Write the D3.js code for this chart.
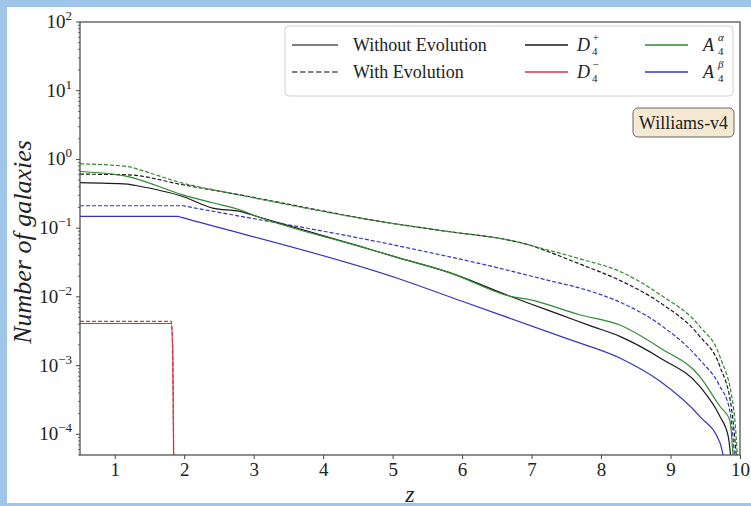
<!DOCTYPE html>
<html>
<head>
<meta charset="utf-8">
<script src="https://cdn.jsdelivr.net/npm/d3@7"></script>
<style>
  html, body { margin: 0; padding: 0; background: #9fc5e8; }
  svg { display: block; }
  text { font-family: "Liberation Serif", "DejaVu Serif", serif; fill: #222; }
</style>
</head>
<body>
<svg id="chart" width="751" height="506"></svg>
<script>
// Number of galaxies vs redshift ([z, N])
const dPlusNoEvo = [[0.5, 0.461], [1.19, 0.438], [1.25, 0.427], [1.98, 0.289], [2.41, 0.196], [2.80, 0.175],
  [3.05, 0.148], [4.53, 0.0542], [5.10, 0.0367], [5.82, 0.0225], [6.69, 0.0102], [6.97, 0.0080],
  [7.41, 0.00551], [7.84, 0.00381], [8.27, 0.00266], [8.85, 0.00129], [9.42, 0.000500], [9.71, 0.000183],
  [9.83, 0.0000938], [9.92, 0.00001]];
const dPlusEvo = [[0.5, 0.611], [1.19, 0.597], [1.98, 0.428], [2.66, 0.324], [4.96, 0.119], [5.82, 0.0887],
  [6.69, 0.0665], [6.97, 0.0569], [7.26, 0.0447], [7.69, 0.0302], [8.27, 0.0174], [8.85, 0.00822],
  [9.42, 0.00267], [9.71, 0.000977], [9.88, 0.000229], [10.0, 0.00001]];
const dMinusNoEvo = [[0.5, 0.0041], [1.814, 0.0041], [1.834, 0.00171], [1.853, 0.00001]];
const dMinusEvo = [[0.5, 0.0044], [1.814, 0.0044], [1.834, 0.0018], [1.853, 0.00001]];
const aAlphaNoEvo = [[0.5, 0.667], [1.19, 0.563], [1.98, 0.305], [2.41, 0.234], [2.80, 0.185], [3.05, 0.148],
  [4.53, 0.0542], [5.10, 0.0367], [5.82, 0.0225], [6.69, 0.0102], [6.97, 0.0091], [7.69, 0.00550],
  [8.27, 0.00389], [8.85, 0.00181], [9.42, 0.000698], [9.71, 0.000256], [9.85, 0.000164], [9.94, 0.00001]];
const aAlphaEvo = [[0.5, 0.863], [1.19, 0.788], [1.36, 0.706], [1.98, 0.452], [2.66, 0.324], [4.96, 0.119],
  [5.82, 0.0887], [6.69, 0.0665], [7.11, 0.0519], [7.69, 0.0359], [8.27, 0.0235], [8.85, 0.01076],
  [9.42, 0.00372], [9.71, 0.00136], [9.91, 0.000229], [10.0, 0.00001]];
const aBetaNoEvo = [[0.5, 0.148], [1.91, 0.148], [1.96, 0.1433], [5.10, 0.0182], [6.0, 0.00863], [7.55, 0.00239],
  [8.27, 0.00129], [8.85, 0.000591], [9.42, 0.000183], [9.71, 0.0000761], [9.87, 0.00001]];
const aBetaEvo = [[0.5, 0.212], [1.98, 0.212], [2.04, 0.2065], [4.96, 0.0585], [6.4, 0.0282], [7.2, 0.0178],
  [7.84, 0.01216], [8.27, 0.00841], [8.85, 0.00394], [9.42, 0.00122], [9.71, 0.000500], [9.85, 0.000229],
  [9.97, 0.00001]];

const xTicks = [1, 2, 3, 4, 5, 6, 7, 8, 9, 10];
const yExponents = [-4, -3, -2, -1, 0, 1, 2];

const series = [
  { data: dPlusEvo, color: '#1a1a1a', dashed: true },
  { data: aAlphaEvo, color: '#2e8b2e', dashed: true },
  { data: aBetaEvo, color: '#3434c4', dashed: true },
  { data: dMinusEvo, color: '#d8343f', dashed: true },
  { data: aBetaNoEvo, color: '#3434c4', dashed: false },
  { data: dPlusNoEvo, color: '#1a1a1a', dashed: false },
  { data: aAlphaNoEvo, color: '#2e8b2e', dashed: false },
  { data: dMinusNoEvo, color: '#d8343f', dashed: false },
];

const margin = { left: 80, right: 740, top: 22, bottom: 455 };

const svg = d3.select('#chart');

// white page inside the blue frame
svg.append('rect').attr('x', 7).attr('y', 7).attr('width', 744).attr('height', 496).attr('fill', '#fff');

const x = d3.scaleLinear().domain([0.5, 10]).range([margin.left, margin.right]);
const y = d3.scaleLog().domain([5e-5, 100]).range([margin.bottom, margin.top]);

svg.append('clipPath').attr('id', 'plot-clip')
  .append('rect')
  .attr('x', margin.left).attr('y', margin.top)
  .attr('width', margin.right - margin.left).attr('height', margin.bottom - margin.top);

const line = d3.line().x(d => x(d[0])).y(d => y(d[1])).curve(d3.curveMonotoneX);

const lines = svg.append('g').attr('clip-path', 'url(#plot-clip)');
series.forEach((s) => {
  lines.append('path')
    .datum(s.data)
    .attr('d', line)
    .attr('fill', 'none')
    .attr('stroke', s.color)
    .attr('stroke-width', 1.2)
    .attr('stroke-dasharray', s.dashed ? '4,2' : null);
});

// x axis
const xAxis = svg.append('g')
  .attr('transform', `translate(0,${margin.bottom})`)
  .call(d3.axisBottom(x).tickValues(xTicks).tickSize(4).tickPadding(4).tickFormat(d3.format('d')));
xAxis.select('.domain').remove();
xAxis.selectAll('line').attr('stroke', '#444');
xAxis.selectAll('text').attr('font-size', 19).attr('font-family', '"Liberation Serif", serif').attr('fill', '#222');

// y axis: majors with 10^n labels, minors at 2..9
const minor = [];
for (let e = -5; e < 2; e += 1) {
  for (let k = 2; k <= 9; k += 1) {
    const v = k * 10 ** e;
    if (v >= 5e-5 && v <= 100) minor.push(v);
  }
}
const yAxis = svg.append('g').attr('transform', `translate(${margin.left},0)`);
yAxis.selectAll('.minor').data(minor).join('line')
  .attr('x1', -2).attr('x2', 0)
  .attr('y1', d => y(d)).attr('y2', d => y(d))
  .attr('stroke', '#444').attr('stroke-width', 0.8);
yAxis.selectAll('.major').data(yExponents).join('line')
  .attr('x1', -4).attr('x2', 0)
  .attr('y1', d => y(10 ** d)).attr('y2', d => y(10 ** d))
  .attr('stroke', '#444');
const yLabels = yAxis.selectAll('.lab').data(yExponents).join('text')
  .attr('x', -8)
  .attr('y', d => y(10 ** d) + 6)
  .attr('text-anchor', 'end')
  .attr('font-size', 19);
yLabels.append('tspan').text('10');
yLabels.append('tspan').attr('dy', -8).attr('font-size', 13)
  .text(d => (d < 0 ? `\u2212${-d}` : `${d}`));

// frame
svg.append('rect')
  .attr('x', margin.left).attr('y', margin.top)
  .attr('width', margin.right - margin.left).attr('height', margin.bottom - margin.top)
  .attr('fill', 'none').attr('stroke', '#444').attr('stroke-width', 1.2);

// axis titles
svg.append('text')
  .attr('transform', 'translate(31,242) rotate(-90)')
  .attr('text-anchor', 'middle')
  .attr('font-size', 26)
  .attr('font-style', 'italic')
  .text('Number of galaxies');
svg.append('text')
  .attr('x', 410).attr('y', 502)
  .attr('text-anchor', 'middle')
  .attr('font-size', 24)
  .attr('font-style', 'italic')
  .text('z');

// legend
const legend = svg.append('g');
legend.append('rect')
  .attr('x', 285).attr('y', 26).attr('width', 448).attr('height', 70).attr('rx', 4)
  .attr('fill', '#fff').attr('fill-opacity', 0.85)
  .attr('stroke', '#d0d0d0');

const styleItems = [
  { label: 'Without Evolution', dashed: false, row: 0 },
  { label: 'With Evolution', dashed: true, row: 1 },
];
const rowY = [45, 72];
styleItems.forEach((it) => {
  legend.append('line')
    .attr('x1', 292).attr('x2', 338).attr('y1', rowY[it.row]).attr('y2', rowY[it.row])
    .attr('stroke', '#555').attr('stroke-width', 1.5)
    .attr('stroke-dasharray', it.dashed ? '5.5,2.5' : null);
  legend.append('text')
    .attr('x', 353).attr('y', rowY[it.row] + 6)
    .attr('font-size', 18)
    .text(it.label);
});

const modelItems = [
  { name: 'D', sup: '+', color: '#1a1a1a', col: 0, row: 0 },
  { name: 'D', sup: '\u2212', color: '#d8343f', col: 0, row: 1 },
  { name: 'A', sup: '\u03b1', color: '#2e8b2e', col: 1, row: 0 },
  { name: 'A', sup: '\u03b2', color: '#3434c4', col: 1, row: 1 },
];
const colX = [525, 645];
modelItems.forEach((it) => {
  const x0 = colX[it.col];
  const yy = rowY[it.row];
  legend.append('line')
    .attr('x1', x0).attr('x2', x0 + 43).attr('y1', yy).attr('y2', yy)
    .attr('stroke', it.color).attr('stroke-width', 1.5);
  const tx = x0 + (it.col === 0 ? 52 : 58);
  legend.append('text')
    .attr('x', tx).attr('y', yy + 6)
    .attr('font-size', 18).attr('font-style', 'italic')
    .text(it.name);
  legend.append('text')
    .attr('x', tx + 15).attr('y', yy - 4)
    .attr('font-size', 11).attr('font-style', 'italic')
    .text(it.sup);
  legend.append('text')
    .attr('x', tx + 15).attr('y', yy + 10)
    .attr('font-size', 11)
    .text('4');
});

// model tag
svg.append('rect')
  .attr('x', 633).attr('y', 108).attr('width', 101).attr('height', 29).attr('rx', 5)
  .attr('fill', '#f6e9d2').attr('stroke', '#666').attr('stroke-width', 1);
svg.append('text')
  .attr('x', 683.5).attr('y', 128.5)
  .attr('text-anchor', 'middle')
  .attr('font-size', 18)
  .text('Williams-v4');
</script>
</body>
</html>
